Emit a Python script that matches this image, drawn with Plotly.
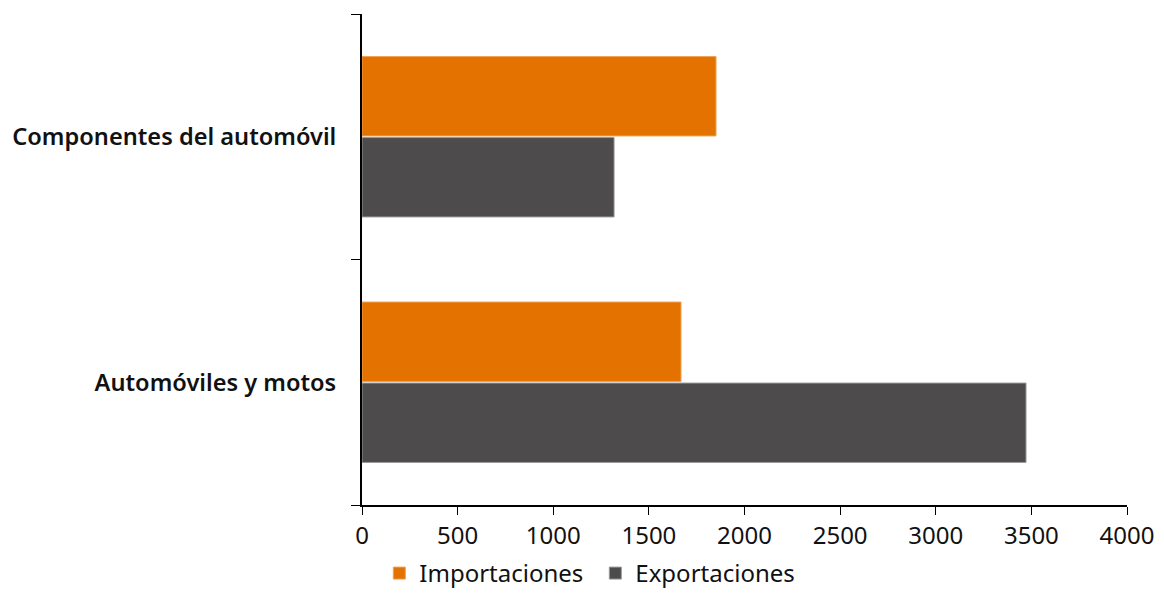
import plotly.graph_objects as go

categories = ["Automóviles y motos", "Componentes del automóvil"]
importaciones = [1668, 1851]
exportaciones = [3472, 1318]
x_ticks = [0, 500, 1000, 1500, 2000, 2500, 3000, 3500, 4000]

fig = go.Figure()
fig.add_trace(go.Bar(
    y=categories, x=exportaciones, name="Exportaciones", orientation="h",
    marker=dict(color="#4D4B4C", line=dict(color="#9a9a9a", width=1)),
))
fig.add_trace(go.Bar(
    y=categories, x=importaciones, name="Importaciones", orientation="h",
    marker=dict(color="#E37200", line=dict(color="#F0A050", width=1)),
))

font_family = "Noto Sans, Open Sans, sans-serif"
fig.update_layout(
    width=1156, height=588,
    margin=dict(l=354, r=37, t=6, b=91),
    plot_bgcolor="white", paper_bgcolor="white",
    barmode="group", bargap=0.34, bargroupgap=0.02,
    font=dict(family=font_family, color="#111111", size=24),
    legend=dict(orientation="h", traceorder="reversed", x=0.305, xanchor="center",
                yref="container", y=-0.014, yanchor="bottom", font=dict(size=24),
                itemwidth=30, entrywidth=171, tracegroupgap=0),
    xaxis=dict(range=[0, 4000], tickvals=x_ticks, showgrid=False, zeroline=False,
               showline=True, linecolor="black", linewidth=1.5,
               ticks="outside", ticklen=8, tickcolor="black", tickwidth=1,
               ticklabelstandoff=0, tickfont=dict(size=24), automargin=False),
    yaxis=dict(type="category", categoryorder="array", categoryarray=categories,
               showgrid=False, zeroline=False, showline=True, linecolor="black",
               linewidth=2, ticks="outside", ticklen=9, tickcolor="black",
               tickson="boundaries", ticklabelstandoff=19,
               tickfont=dict(size=23.6, weight=600), automargin=False),
)
fig.write_html("out.html")
